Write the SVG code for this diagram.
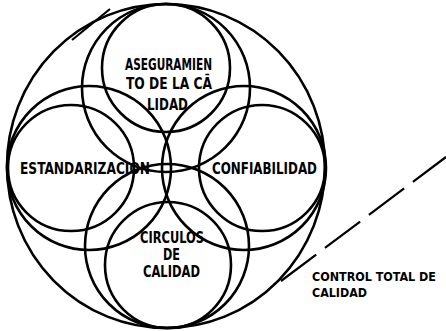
<svg xmlns="http://www.w3.org/2000/svg" width="446" height="331" viewBox="0 0 446 331">
<style>
.c{fill:none;stroke:#000;stroke-width:2.6}
.t{font-family:"DejaVu Sans Condensed","Liberation Sans Narrow","Liberation Sans",sans-serif;font-weight:bold;font-size:15px;fill:#000}
.s{font-size:13px}
.l{stroke:#000;stroke-width:2.2;fill:none}
</style>
<rect width="446" height="331" fill="#fff"/>
<g id="control-total">
<ellipse class="c" cx="166" cy="166" rx="159" ry="162" stroke-width="3"/>
<text class="t s" x="312" y="281" textLength="124" lengthAdjust="spacingAndGlyphs">CONTROL TOTAL DE</text>
<text class="t s" x="312" y="297" textLength="55" lengthAdjust="spacingAndGlyphs">CALIDAD</text>
</g>
<g id="aseguramiento">
<circle class="c" cx="166" cy="68" r="64"/>
<circle class="c" cx="166" cy="88" r="84"/>
<text class="t" x="125" y="70" textLength="87" lengthAdjust="spacingAndGlyphs">ASEGURAMIEN</text>
<text class="t" x="126" y="89" textLength="86" lengthAdjust="spacingAndGlyphs">TO DE LA CĀ</text>
<text class="t" x="147" y="110" textLength="41" lengthAdjust="spacingAndGlyphs">LIDAD</text>
</g>
<g id="estandarizacion">
<circle class="c" cx="71" cy="168" r="63"/>
<circle class="c" cx="89" cy="168" r="82"/>
<text class="t" x="20" y="174" textLength="130" lengthAdjust="spacingAndGlyphs">ESTANDARIZACION</text>
</g>
<g id="confiabilidad">
<circle class="c" cx="262" cy="168" r="63"/>
<circle class="c" cx="244" cy="168" r="82"/>
<text class="t" x="212" y="174" textLength="105" lengthAdjust="spacingAndGlyphs">CONFIABILIDAD</text>
</g>
<g id="circulos">
<circle class="c" cx="168" cy="265" r="63"/>
<circle class="c" cx="167" cy="246" r="82"/>
<text class="t" x="140" y="243" textLength="64" lengthAdjust="spacingAndGlyphs">CIRCULOS</text>
<text class="t" x="163" y="260" textLength="17" lengthAdjust="spacingAndGlyphs">DE</text>
<text class="t" x="143" y="277" textLength="57" lengthAdjust="spacingAndGlyphs">CALIDAD</text>
</g>
<g id="connectors">
<line class="l" x1="110" y1="9" x2="72" y2="40"/>
<line class="l" x1="281" y1="281" x2="446" y2="157" stroke-dasharray="44 11"/>
</g>
</svg>
